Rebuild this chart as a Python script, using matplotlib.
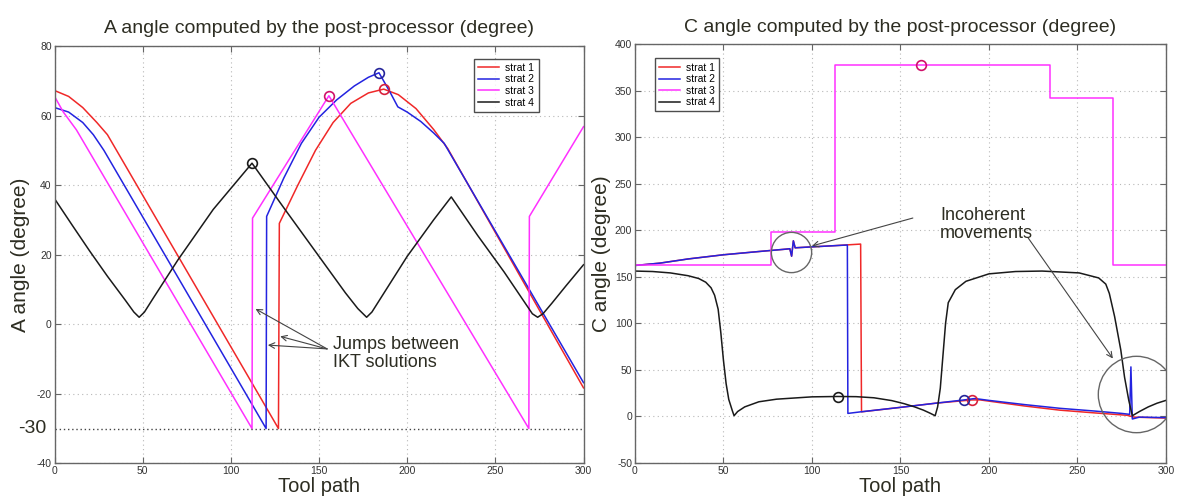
import matplotlib.pyplot as plt

plt.rcParams['font.family'] = ['Liberation Sans', 'DejaVu Sans']
plt.rcParams['axes.unicode_minus'] = False

TXT = '#2d2d22'
COLORS = ['#f02828', '#2323e0', '#ff30ff', '#1a1a1a']
MARK_COLORS = ['#d8203c', '#25259a', '#d0106a', '#1a1a1a']
labels = ['strat 1', 'strat 2', 'strat 3', 'strat 4']

# ---- A angle (left) ----
a1_x = [0, 8, 16, 24, 30, 127, 127.5, 138, 148, 158, 168, 178, 186.7, 195, 205, 215, 223, 300]
a1_y = [67.2, 65.5, 62.3, 58, 54.5, -30, 29, 40, 50, 58, 63.5, 66.5, 67.6, 66, 62, 56, 50.5, -18.3]

a2_x = [0, 8, 16, 22, 28, 120, 120.3, 130, 140, 150, 160, 170, 178, 184, 190, 194.7, 200, 207.7, 215, 221, 300]
a2_y = [62.3, 61, 58, 54.5, 50, -30, 31, 42, 52, 59.5, 64.5, 68.5, 71, 72.3, 67, 62.5, 61, 58.3, 55, 52, -16.8]

a3_x = [0, 5, 12.4, 112, 112.3, 155.6, 269, 269.3, 300]
a3_y = [65.5, 61, 55.9, -30, 30.5, 65.7, -30, 31, 56.8]

a4_x = [0, 10, 20, 30, 40, 45, 48, 51, 56, 70, 90, 112, 130, 150, 165, 172, 177, 180, 185,
        200, 215, 225, 240, 255, 265, 271, 274, 277, 282, 290, 300]
a4_y = [36.1, 28.5, 21, 13.8, 7, 3.5, 2, 3.5, 7.5, 18.5, 33, 46.3, 33.5, 19.5, 9, 4.5, 2, 3.5, 7.5,
        19.5, 30, 36.6, 25.5, 15, 7.5, 3, 2, 3, 6, 11, 17.1]

a_peaks = [(186.7, 67.6), (184, 72.3), (155.6, 65.7), (112.2, 46.3)]

# ---- C angle (right) ----
c1_x = [0, 14, 30, 50, 70, 85, 87.5, 88.5, 89.5, 90.5, 100, 110, 127.5, 128, 150, 170, 190.4, 195,
        220, 240, 260, 278, 282, 300]
c1_y = [162, 164.5, 169, 173.5, 177, 179.5, 180, 172, 188.5, 181, 182, 183, 185, 4.7, 9.5, 14, 17.5, 17.5,
        11, 6.5, 3.5, 1, -1, -2]

c2_x = [0, 14, 30, 50, 70, 85, 87.5, 88.5, 89.5, 90.5, 100, 110, 120, 120.3, 128, 150, 170, 186, 192,
        200, 220, 240, 260, 275, 279.5, 280.2, 281, 285, 300]
c2_y = [162, 164.5, 169, 173.5, 177, 179.5, 180, 172, 188.5, 181, 182, 183, 184, 3, 4.8, 9.5, 14, 17.5, 19,
        17, 12.5, 8.5, 5.5, 3, 2, 53, -3, -1, -1.5]

c3_x = [0, 77, 77, 113, 113, 234.5, 234.5, 269.8, 269.8, 300]
c3_y = [162, 162, 198, 198, 378, 378, 342, 342, 162, 162]

c4_x = [0, 10, 20, 30, 36, 40, 43, 45, 47, 48.5, 50, 51.5, 53, 55, 56, 58, 62, 70, 80, 100, 114.5,
        125, 135, 145, 152, 158, 163, 167, 169.6, 171, 172.5, 174, 175.5, 177, 181, 187, 200, 215,
        230, 251, 262, 266, 268, 271, 274.5, 276.6, 279, 281, 285, 290, 295, 300]
c4_y = [156, 155.5, 154, 151, 148, 144, 138, 130, 115, 90, 60, 35, 18, 6, 0.5, 5, 10, 15.5, 18.3, 20.8, 21.2,
        21, 19.8, 16.8, 13.5, 10, 6.5, 3, 0.5, 10, 30, 65, 100, 122, 136, 145, 153, 155.5,
        156, 154, 148.6, 142, 132, 107, 71, 42, 17, 0.5, 5, 10, 14, 17]

c_peaks = [(190.4, 17.3), (186, 17.3), (161.7, 378), (114.5, 21)]


def style(ax, ylim, yticks):
    ax.set_xlim(0, 300)
    ax.set_ylim(*ylim)
    ax.set_xticks(range(0, 301, 50))
    ax.set_yticks(yticks)
    ax.grid(True, ls=(0, (1, 3)), color='#b8b8b8', lw=0.8)
    ax.tick_params(direction='in', top=True, right=True, length=4, width=0.8,
                   labelsize=7.5, labelcolor='#333333', color='#666666', pad=2)
    for s in ax.spines.values():
        s.set_color('#666666')
        s.set_linewidth(1)
    ax.set_xlabel('Tool path', fontsize=14.5, color=TXT, labelpad=1)


fig = plt.figure(figsize=(11.8, 5.01), dpi=100)
ax1 = fig.add_axes([0.0462, 0.0752, 0.4483, 0.833])
ax2 = fig.add_axes([0.5381, 0.0764, 0.45, 0.8357])

for xs, ys, c, lab in zip([a1_x, a2_x, a3_x, a4_x], [a1_y, a2_y, a3_y, a4_y], COLORS, labels):
    ax1.plot(xs, ys, color=c, lw=1.1, label=lab)
for (px, py), mc in zip(a_peaks, MARK_COLORS):
    ax1.plot(px, py, 'o', ms=7, mfc='none', mec=mc, mew=1.2)
ax1.axhline(-30, ls=(0, (1, 2)), color='#444444', lw=1)
style(ax1, (-40, 80), range(-40, 81, 20))
ax1.text(-0.015, -30, '-30', transform=ax1.get_yaxis_transform(), ha='right', va='center',
         fontsize=14, color=TXT)
ax1.set_title('A angle computed by the post-processor (degree)', fontsize=14, color=TXT, pad=9)
ax1.set_ylabel('A angle (degree)', fontsize=15, color=TXT, labelpad=5)
leg = ax1.legend(loc='upper right', bbox_to_anchor=(0.925, 0.982), fontsize=7.5, frameon=True,
                 fancybox=False, edgecolor='#222222', handlelength=2, labelspacing=0.15,
                 borderpad=0.4, handletextpad=0.6)
leg.get_frame().set_linewidth(1)

arrow = dict(arrowstyle='->', color='#444444', lw=0.8, shrinkA=0, shrinkB=0)
for hx, hy in [(114, 4.4), (121, -6), (128, -3.5)]:
    ax1.annotate('', xy=(hx, hy), xytext=(154.6, -7.1), arrowprops=arrow)
ax1.text(157.8, -8.4, 'Jumps between\nIKT solutions', fontsize=13, color=TXT,
         ha='left', va='center', linespacing=1.05)

for xs, ys, c, lab in zip([c1_x, c2_x, c3_x, c4_x], [c1_y, c2_y, c3_y, c4_y], COLORS, labels):
    ax2.plot(xs, ys, color=c, lw=1.1, label=lab)
for (px, py), mc in zip(c_peaks, MARK_COLORS):
    ax2.plot(px, py, 'o', ms=7, mfc='none', mec=mc, mew=1.2)
style(ax2, (-50, 400), range(-50, 401, 50))
ax2.set_title('C angle computed by the post-processor (degree)', fontsize=14, color=TXT, pad=9)
ax2.set_ylabel('C angle (degree)', fontsize=15, color=TXT, labelpad=3)
leg = ax2.legend(loc='upper left', bbox_to_anchor=(0.027, 0.978), fontsize=7.5, frameon=True,
                 fancybox=False, edgecolor='#222222', handlelength=2, labelspacing=0.15,
                 borderpad=0.4, handletextpad=0.6)
leg.get_frame().set_linewidth(1)

# highlight circles around incoherent movements
ax2.plot(88, 177, 'o', ms=29, mfc='none', mec='#666666', mew=1)
ax2.plot(283, 24.4, 'o', ms=55, mfc='none', mec='#666666', mew=1)
ax2.annotate('', xy=(100, 183), xytext=(157, 213), arrowprops=arrow)
ax2.annotate('', xy=(270, 62), xytext=(222, 192), arrowprops=arrow)
ax2.text(172.3, 206, 'Incoherent\nmovements', fontsize=13, color=TXT,
         ha='left', va='center', linespacing=1.05)

fig.savefig('out.png', dpi=100)
